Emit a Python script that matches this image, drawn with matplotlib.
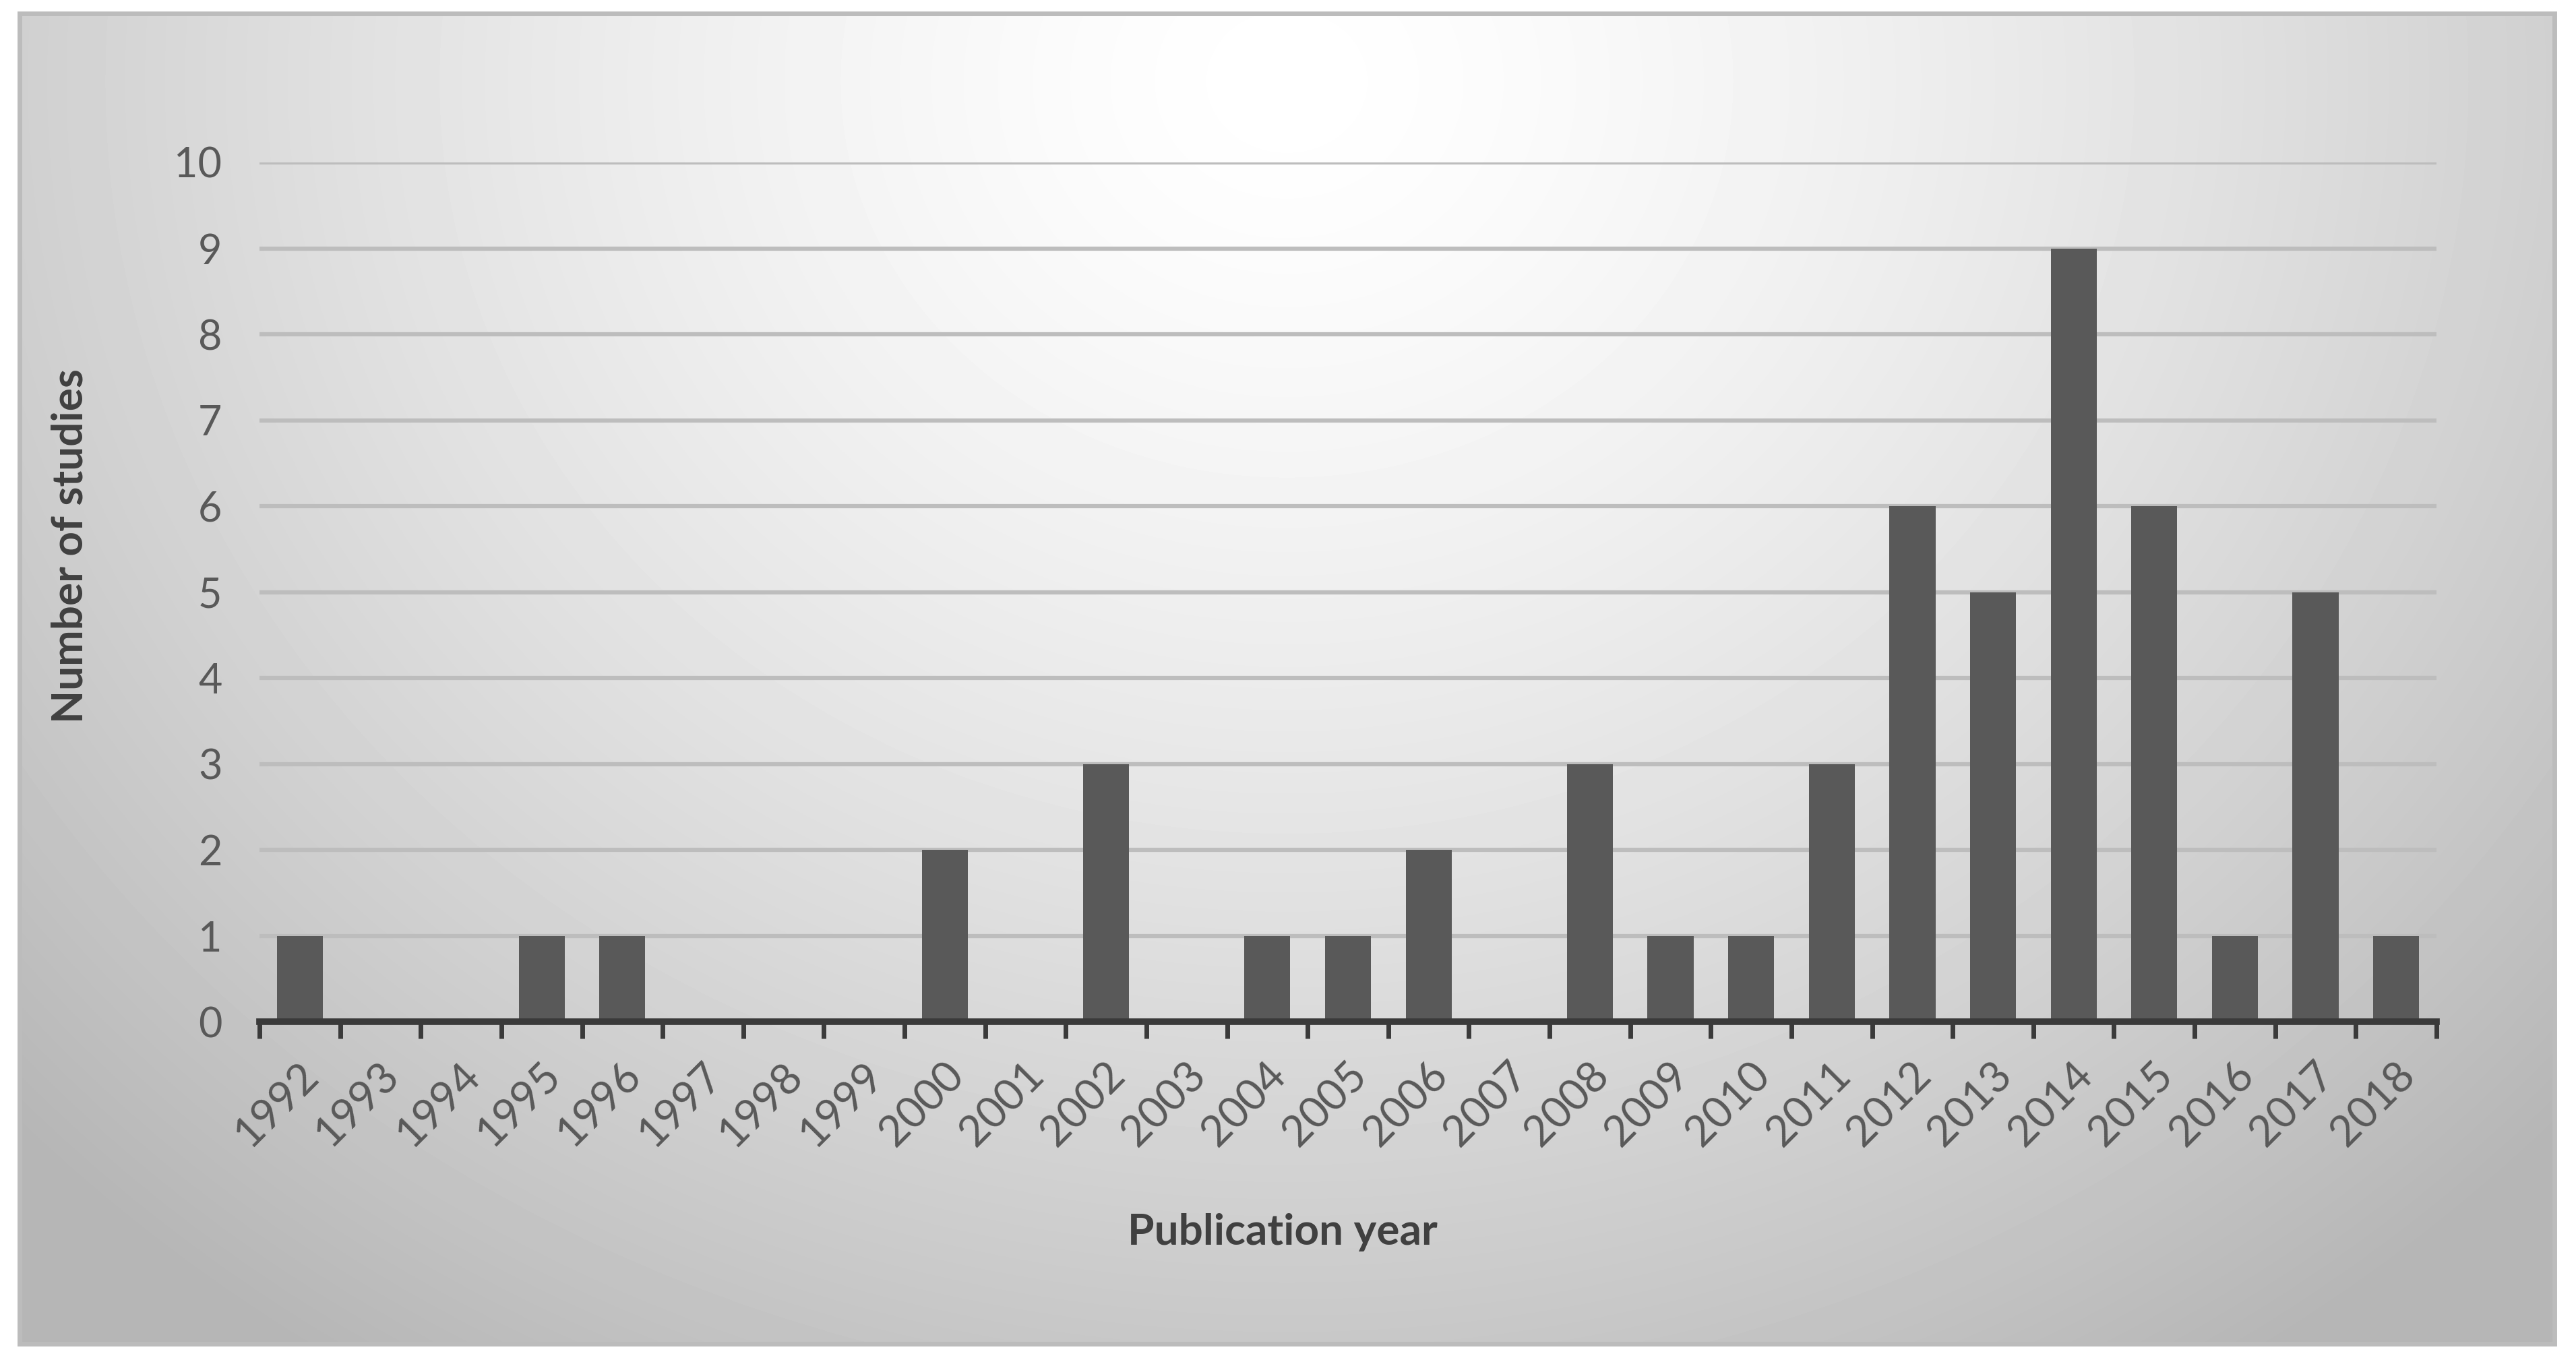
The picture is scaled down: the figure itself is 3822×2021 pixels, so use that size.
import numpy as np
import matplotlib
matplotlib.use("Agg")
from matplotlib import pyplot as plt
from matplotlib.patches import Rectangle
from matplotlib.transforms import ScaledTranslation

years = [str(y) for y in range(1992, 2019)]
studies = [1, 0, 0, 1, 1, 0, 0, 0, 2, 0, 3, 0, 1, 1, 2, 0, 3, 1, 1, 3,
           6, 5, 9, 6, 1, 5, 1]
y_ticks = list(range(0, 11))

W, H = 3822, 2021
plt.rcParams['font.family'] = ['Lato', 'DejaVu Sans']

fig = plt.figure(figsize=(W / 100, H / 100), dpi=100)
fig.patch.set_facecolor('white')

# chart area box with radial grey gradient
bx0, by0, bx1, by1 = 29 / W, 1 - 1994 / H, 3790 / W, 1 - 20 / H
bg = fig.add_axes([bx0, by0, bx1 - bx0, by1 - by0])
gx, gy = np.meshgrid(np.linspace(0, 1, 800), np.linspace(0, 1, 420))
r = np.sqrt(((gx - 0.5) / 0.62) ** 2 + ((gy - 0.05) / 1.05) ** 2)
shade = 1.0 - 0.25 * np.clip(r, 0, 1.1) ** 1.4
bg.imshow(shade, cmap='gray', vmin=0, vmax=1, aspect='auto',
          extent=[0, 1, 0, 1], origin='upper', interpolation='bilinear')
bg.set_axis_off()
fig.patches.append(Rectangle((bx0, by0), bx1 - bx0, by1 - by0,
                             transform=fig.transFigure, fill=False,
                             edgecolor='#bcbcbc', linewidth=5))

ax = fig.add_axes([385 / W, 1 - 1516 / H, (3615 - 385) / W, (1516 - 241) / H])
ax.patch.set_alpha(0)
x = np.arange(len(years))
ax.bar(x, studies, width=0.57, color='#595959', zorder=3)

ax.set_xlim(-0.5, len(years) - 0.5)
ax.set_ylim(0, 10)
ax.set_yticks(y_ticks)
ax.yaxis.grid(True, color='#bdbdbd', linewidth=4.5, zorder=0)
ax.set_axisbelow(True)
for s in ['top', 'right', 'left']:
    ax.spines[s].set_visible(False)
ax.spines['bottom'].set_color('#3a3a3a')
ax.spines['bottom'].set_linewidth(7)
ax.spines['bottom'].set_zorder(4)

ax.tick_params(axis='y', length=0, pad=40, labelsize=44, labelcolor='#595959')
ax.set_xticks(np.arange(len(years) + 1) - 0.5)
ax.set_xticklabels([])
ax.tick_params(axis='x', which='major', length=18, width=5, color='#3a3a3a')
ax.set_xticks(x, minor=True)
ax.set_xticklabels(years, minor=True, rotation=45, ha='right',
                   rotation_mode='anchor', fontsize=46, color='#595959')
ax.tick_params(axis='x', which='minor', length=0, pad=36)
shift = ScaledTranslation(-0.02, 0, fig.dpi_scale_trans)
for lab in ax.get_xticklabels(minor=True):
    lab.set_transform(lab.get_transform() + shift)

ax.set_xlabel('Publication year', fontsize=46, fontweight='bold',
              color='#404040')
ax.xaxis.set_label_coords(0.47, -(1800 - 1516) / (1516 - 241))
ax.set_ylabel('Number of studies', fontsize=46, fontweight='bold',
              color='#404040')
ax.yaxis.set_label_coords(-(385 - 132) / (3615 - 385), 0.554)

fig.savefig('out.png', dpi=100)
